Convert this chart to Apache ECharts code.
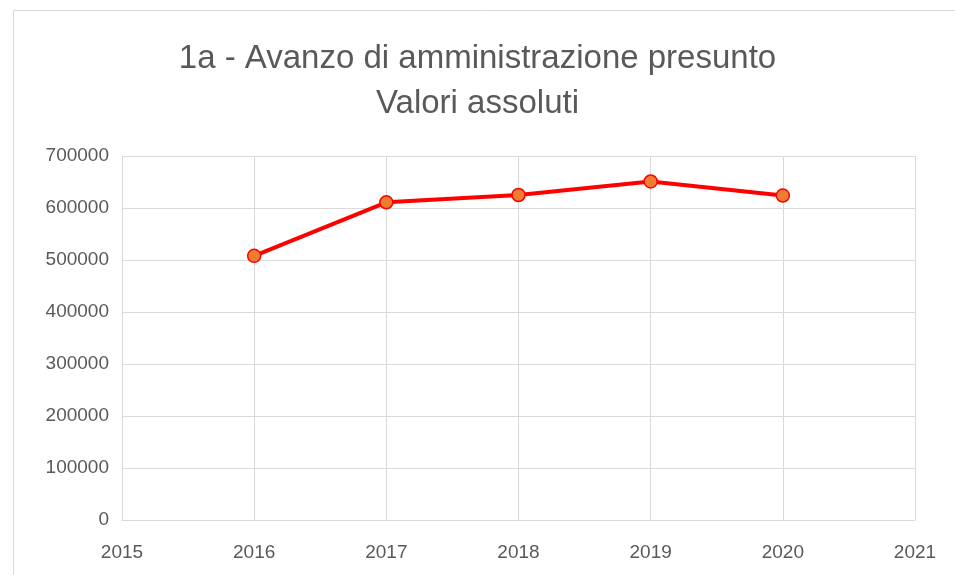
<!DOCTYPE html>
<html>
<head>
<meta charset="utf-8">
<script src="https://cdn.jsdelivr.net/npm/echarts@6/dist/echarts.min.js"></script>
<style>
  html, body { margin: 0; padding: 0; background: #fff; }
  #chart { width: 955px; height: 575px; }
</style>
</head>
<body>
<div id="chart"></div>
<script>
const years = [2016, 2017, 2018, 2019, 2020];
const avanzo = [508000, 611000, 625000, 651000, 624000];
const yTicks = [0, 100000, 200000, 300000, 400000, 500000, 600000, 700000];

const chart = echarts.init(document.getElementById('chart'));
const textColor = '#595959';

chart.setOption({
  animation: false,
  graphic: [{
    type: 'rect',
    shape: { x: 13.5, y: 10.5, width: 960, height: 580 },
    style: { fill: 'none', stroke: '#d9d9d9', lineWidth: 1 },
    silent: true
  }],
  title: {
    text: '1a - Avanzo di amministrazione presunto\nValori assoluti',
    left: 'center',
    top: 31,
    textStyle: {
      fontFamily: 'Liberation Sans',
      fontSize: 33,
      fontWeight: 'normal',
      color: textColor,
      lineHeight: 45
    }
  },
  grid: { left: 122, right: 40, top: 156, bottom: 55 },
  xAxis: {
    type: 'value',
    min: 2015,
    max: 2021,
    interval: 1,
    axisLine: { show: true, lineStyle: { color: '#d9d9d9' } },
    axisTick: { show: false },
    splitLine: { show: true, lineStyle: { color: '#d9d9d9', width: 1 } },
    axisLabel: {
      color: textColor, fontSize: 19, margin: 23,
      fontFamily: 'Liberation Sans',
      formatter: v => String(v)
    }
  },
  yAxis: {
    type: 'value',
    min: yTicks[0],
    max: yTicks[yTicks.length - 1],
    interval: 100000,
    axisLine: { show: false },
    axisTick: { show: false },
    splitLine: { lineStyle: { color: '#d9d9d9', width: 1 } },
    axisLabel: {
      color: textColor, fontSize: 19, margin: 13,
      fontFamily: 'Liberation Sans',
      formatter: v => String(v)
    }
  },
  series: [{
    type: 'line',
    data: years.map((y, i) => [y, avanzo[i]]),
    symbol: 'circle',
    symbolSize: 13,
    lineStyle: { color: '#ff0000', width: 4 },
    itemStyle: { color: '#ed7d31', borderColor: '#ff0000', borderWidth: 1.5 }
  }]
});
</script>
</body>
</html>
